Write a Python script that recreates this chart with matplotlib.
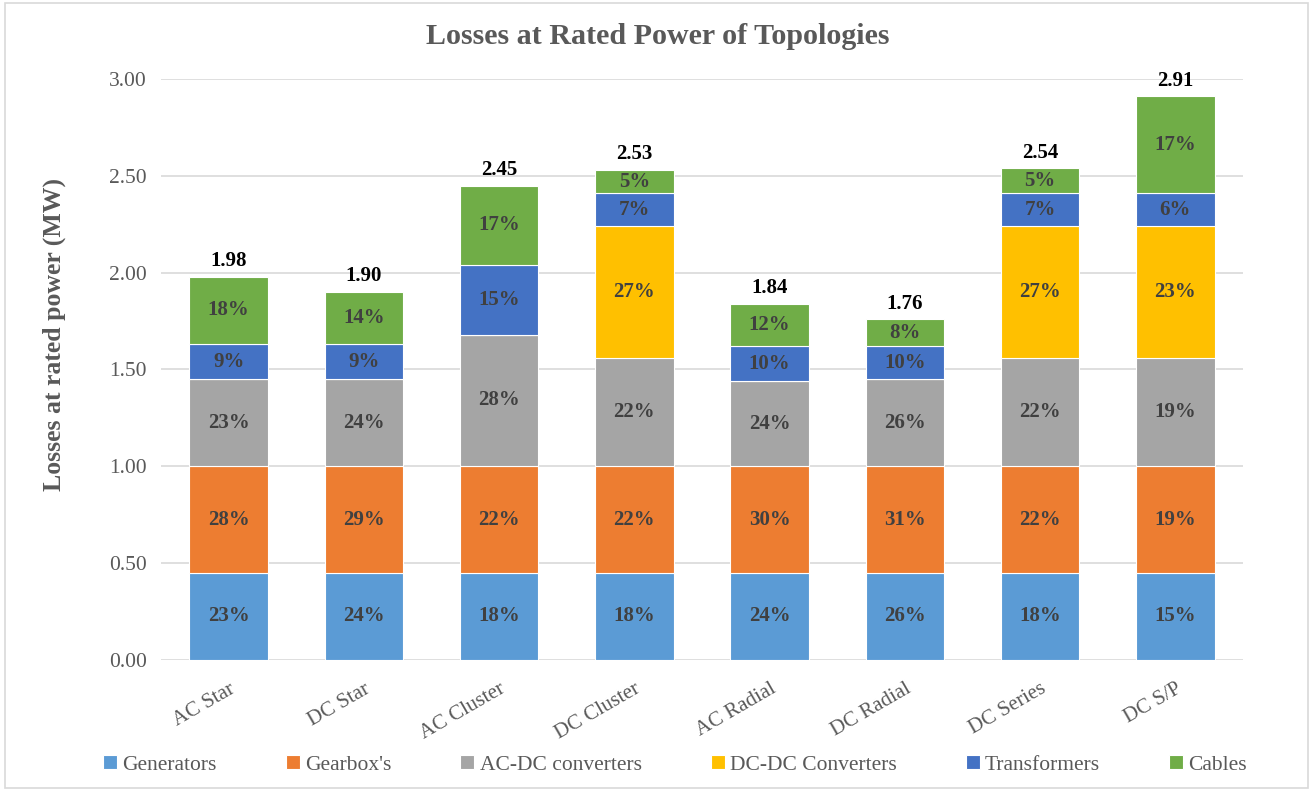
"""
Stacked bar chart of losses at rated power for the different topologies.
"""

import matplotlib.pyplot as plt
import numpy as np

# Data
TOPOLOGIES = ["AC Star", "DC Star", "AC Cluster", "DC Cluster",
              "AC Radial", "DC Radial", "DC Series", "DC S/P"]

GENERATORS = [0.45, 0.45, 0.45, 0.45, 0.45, 0.45, 0.45, 0.45]
GEARBOXES = [0.55, 0.55, 0.55, 0.55, 0.55, 0.55, 0.55, 0.55]
AC_DC = [0.45, 0.45, 0.68, 0.56, 0.44, 0.45, 0.56, 0.56]
DC_DC = [0.00, 0.00, 0.00, 0.68, 0.00, 0.00, 0.68, 0.68]
TRANSFORMERS = [0.18, 0.18, 0.36, 0.17, 0.18, 0.17, 0.17, 0.17]
CABLES = [0.35, 0.27, 0.41, 0.12, 0.22, 0.14, 0.13, 0.50]

SERIES = ["Generators", "Gearbox's", "AC-DC converters",
          "DC-DC Converters", "Transformers", "Cables"]
COLORS = ["#5B9BD5", "#ED7D31", "#A5A5A5", "#FFC000", "#4472C4", "#70AD47"]

Y_TICKS = [0.0, 0.5, 1.0, 1.5, 2.0, 2.5, 3.0]

SERIF = ["Liberation Serif", "DejaVu Serif"]
GRAY_TEXT = "#595959"


def main():
    plt.rcParams["font.family"] = SERIF

    values = np.array([GENERATORS, GEARBOXES, AC_DC, DC_DC, TRANSFORMERS, CABLES])
    totals = values.sum(axis=0)
    x = np.arange(len(TOPOLOGIES))

    fig = plt.figure(figsize=(13.16, 7.93), dpi=100)
    ax = fig.add_axes([0.1223, 0.1677, 0.8222, 0.7327])

    bottom = np.zeros(len(TOPOLOGIES))
    for name, vals, color in zip(SERIES, values, COLORS):
        ax.bar(x, vals, bottom=bottom, width=0.58, color=color,
               edgecolor="white", linewidth=0.8, label=name, zorder=3)
        for xi, v, b, t in zip(x, vals, bottom, totals):
            if v > 0:
                ax.text(xi, b + v / 2, f"{v / t * 100:.0f}%", ha="center",
                        va="center", fontsize=15, fontweight="bold",
                        color="#404040", zorder=4)
        bottom += vals

    for xi, t in zip(x, totals):
        ax.annotate(f"{t:.2f}", (xi, t), xytext=(0, 4),
                    textcoords="offset points", ha="center", va="bottom",
                    fontsize=15, fontweight="bold", color="black",
                    annotation_clip=False)

    ax.set_xlim(-0.5, len(TOPOLOGIES) - 0.5)
    ax.set_ylim(0, 3.0)
    ax.set_yticks(Y_TICKS)
    ax.set_yticklabels([f"{v:.2f}" for v in Y_TICKS], fontsize=15.5,
                       color=GRAY_TEXT)
    ax.set_xticks(x)
    ax.set_xticklabels(TOPOLOGIES, rotation=30, ha="right",
                       rotation_mode="anchor", fontsize=15, color=GRAY_TEXT)
    ax.tick_params(length=0, pad=10)
    ax.tick_params(axis="x", pad=14)

    ax.yaxis.grid(True, color="#D9D9D9", linewidth=1.2, zorder=0)
    ax.set_axisbelow(True)
    for spine in ax.spines.values():
        spine.set_visible(False)

    fig.text(54 / 1316, 1 - 335 / 793, "Losses at rated power (MW)",
             rotation=90, ha="center", va="center", fontsize=18.5,
             fontweight="bold", color=GRAY_TEXT)

    fig.suptitle("Losses at Rated Power of Topologies", y=0.971,
                 fontsize=21.6, fontweight="bold", color=GRAY_TEXT)

    fig.legend(loc="center", bbox_to_anchor=(0.513, 1 - 765 / 793), ncol=6,
               frameon=False, fontsize=15.5, handlelength=0.65,
               handleheight=0.65, handletextpad=0.25, columnspacing=3.2,
               labelcolor=GRAY_TEXT)

    # light border round the chart area
    fig.patches.append(plt.Rectangle((0.004, 0.006), 0.99, 0.99,
                                     transform=fig.transFigure, fill=False,
                                     edgecolor="#D9D9D9", linewidth=1.2))

    fig.savefig("out.png", dpi=100)
    plt.close(fig)


if __name__ == "__main__":
    main()
